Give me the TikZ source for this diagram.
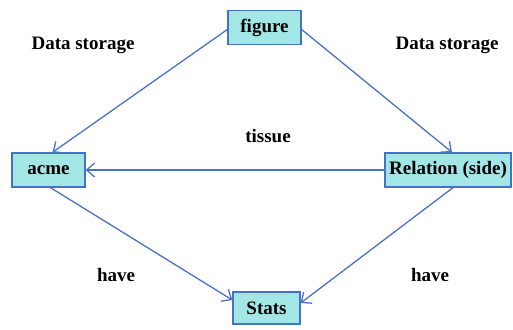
\documentclass[tikz,border=0pt]{standalone}
\usepackage{fontspec}
\setmainfont{Liberation Serif}
\usetikzlibrary{arrows.meta,calc}
\definecolor{boxfill}{HTML}{A2E6E6}
\definecolor{boxline}{HTML}{4472C4}
\definecolor{arrline}{HTML}{4A72C4}
\tikzset{
  box/.style={draw=boxline, line width=1.3pt, fill=boxfill, inner sep=0pt,
    minimum height=34pt, font=\fontsize{19}{21}\selectfont\bfseries},
  lbl/.style={font=\fontsize{19}{21}\selectfont\bfseries, inner sep=0pt},
  conn/.style={draw=arrline, line width=1.3pt, -{Straight Barb[length=8pt,width=14pt,line width=1.3pt]}}
}
\begin{document}
\begin{tikzpicture}[x=1pt,y=-1pt]
\useasboundingbox (0,0) rectangle (513,329);
\node[box, minimum width=73pt] (figure) at (264.5,27.5) {figure};
\node[box, minimum width=73pt] (acme) at (48.5,170) {acme};
\node[box, minimum width=126pt] (rel) at (448,170) {Relation (side)};
\node[box, minimum width=67pt, minimum height=32pt] (stats) at (266.5,308) {Stats};

\node[lbl] (ds1) at (83,45) {Data storage};
\node[lbl] (ds2) at (447,45) {Data storage};
\node[lbl] (tis) at (268,136) {tissue};
\node[lbl] (hv1) at (116,275) {have};
\node[lbl] (hv2) at (430,275) {have};

\draw[conn] ($(figure.west)+(0,2)$) -- ($(acme.north)+(4,0)$);
\draw[conn] ($(figure.east)+(0,2)$) -- ($(rel.north)+(4,0)$);
\draw[conn] (rel.west) -- (acme.east);
\draw[conn] ($(acme.south)+(2,0)$) -- ($(stats.west)+(0,-8)$);
\draw[conn] ($(rel.south)+(5,0)$) -- ($(stats.east)+(0,-5)$);
\end{tikzpicture}
\end{document}
